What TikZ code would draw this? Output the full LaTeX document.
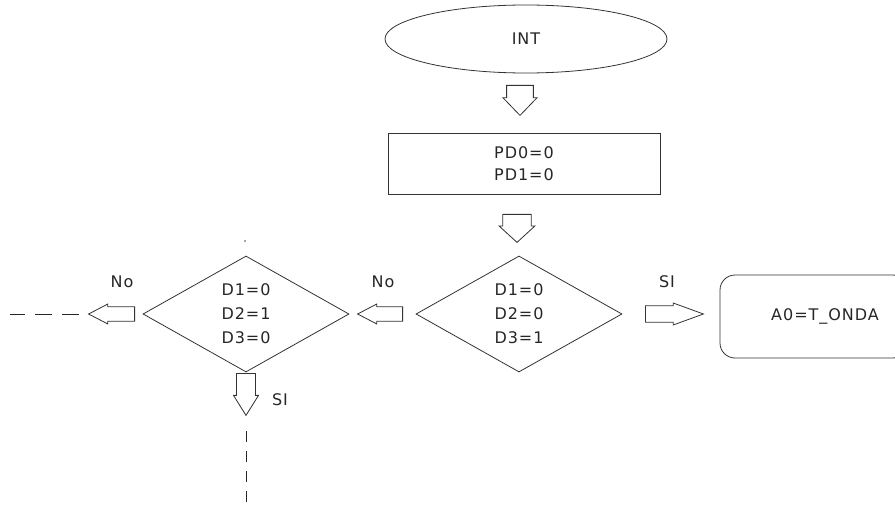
\documentclass[tikz,border=0pt]{standalone}
\usepackage{fontspec}
\setmainfont[LetterSpace=6]{DejaVu Sans}
\usetikzlibrary{shapes.geometric,shapes.arrows,calc}

\tikzset{
  flowline/.style={draw=black!80, line width=0.8pt},
  startbox/.style={flowline, ellipse, minimum width=282pt, minimum height=68pt, inner sep=0pt},
  procbox/.style={flowline, rectangle, minimum width=272pt, minimum height=61pt, align=center},
  testbox/.style={flowline, diamond, aspect=1.78, minimum width=206pt, minimum height=116pt,
    inner sep=0pt, align=center, font=\fontsize{16}{24}\selectfont},
  outbox/.style={flowline, rectangle, rounded corners=15pt, minimum width=188pt, minimum height=83pt},
  bigarrow/.style={flowline, single arrow, single arrow head extend=2pt},
  dashline/.style={draw=black!85, line width=1pt},
  branch/.style={text=black!85},
}

\begin{document}
\begin{tikzpicture}[x=1pt, y=-1pt, font=\fontsize{16}{22}\selectfont, text=black!85]
  \useasboundingbox (0,0) rectangle (895,508);

  % Start
  \node[startbox] (int) at (526,39) {INT};
  \node[bigarrow, rotate=-90, anchor=tail, inner sep=7pt, minimum width=34pt,
        minimum height=30pt, single arrow tip angle=88] (a1) at (520,85) {};

  % Init ports
  \node[procbox] (init) at (524,163.5) {PD0=0\\PD1=0};
  \node[bigarrow, rotate=-90, anchor=tail, inner sep=7pt, minimum width=36pt,
        minimum height=28pt, single arrow tip angle=95] (a2) at (517,214) {};

  % First test
  \node[testbox] (test1) at (519,314) {D1=0\\D2=0\\D3=1};
  \node[branch] (si1) at (667,282) {SI};
  \node[bigarrow, anchor=tail, inner sep=5.5pt, minimum width=22pt,
        minimum height=58pt, single arrow tip angle=40] (aSI) at (645,314) {};
  \node[outbox] (out) at (814,316.5) {\hspace*{22pt}A0=T\_ONDA};

  \node[branch] (no1) at (383,282) {No};
  \node[bigarrow, rotate=180, anchor=tail, inner sep=5pt, minimum width=20pt,
        minimum height=45pt, single arrow tip angle=55] (aNo) at (403,314) {};

  % Second test
  \node[testbox] (test2) at (246,314) {D1=0\\D2=1\\D3=0};
  \fill[black!70] (245,241) circle (0.8pt);

  \node[branch] (no2) at (122,282) {No};
  \node[bigarrow, rotate=180, anchor=tail, inner sep=5pt, minimum width=20pt,
        minimum height=46pt, single arrow tip angle=55] (aNoL) at (135,314) {};
  \coordinate (endL) at (10,314);
  \draw[dashline, dash pattern=on 17pt off 10pt] ([xshift=-9pt]aNoL.tip) -- (endL);

  \node[branch] (si2) at (280,400) {SI};
  \node[bigarrow, rotate=-90, anchor=tail, inner sep=6pt, minimum width=25pt,
        minimum height=42pt, single arrow tip angle=64] (aSId) at (246,373) {};
  \coordinate (endS) at (246,508);
  \draw[dashline, dash pattern=on 11pt off 9pt] ([yshift=-15pt]aSId.tip) -- (endS);
\end{tikzpicture}
\end{document}
